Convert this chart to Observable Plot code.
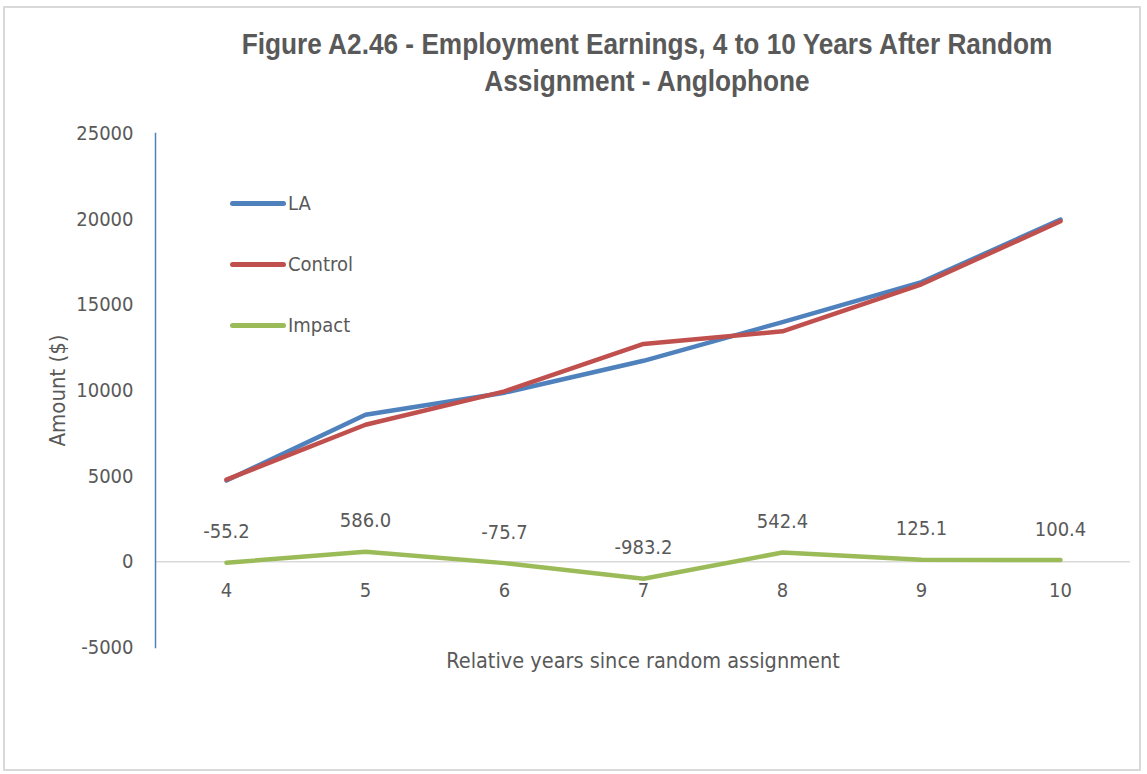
<!DOCTYPE html>
<html>
<head>
<meta charset="utf-8">
<script src="https://cdn.jsdelivr.net/npm/d3@7"></script>
<script src="https://cdn.jsdelivr.net/npm/@observablehq/plot@0.6"></script>
<style>
  html, body { margin: 0; padding: 0; background: #fff; }
  #wrap { position: relative; width: 1147px; height: 774px; overflow: hidden;
          font-family: "Liberation Sans Narrow", "Arial Narrow", "DejaVu Sans Condensed", sans-serif; color: #595959; }
  #border { position: absolute; left: 3px; top: 6px; width: 1138px; height: 765px; border: 2px solid #d9d9d9; box-sizing: border-box; }
  #title { position: absolute; left: 140px; width: 1014px; top: 25px; text-align: center;
           font-family: "Liberation Sans", Arial, sans-serif;
           font-weight: bold; font-size: 30px; line-height: 37px; color: #595959;
           transform: scaleX(0.874); transform-origin: 507px 0; white-space: nowrap; }
  #chart { position: absolute; left: 0; top: 0; }
  .leg { position: absolute; left: 230px; height: 24px; display: flex; align-items: center; font-size: 20px; }
  .leg span.bar { display: inline-block; width: 56px; height: 5px; border-radius: 3px; margin-right: 2px; }
</style>
</head>
<body>
<div id="wrap">
  <div id="border"></div>
  <div id="chart"></div>
  <div id="title">Figure A2.46 - Employment Earnings, 4 to 10 Years After Random<br>Assignment - Anglophone</div>
  <div id="legend"></div>
</div>
<script>
const years = [4, 5, 6, 7, 8, 9, 10];
const laValues = [4745, 8586, 9874, 11733, 13994, 16325, 19980];
const controlValues = [4800, 8000, 9950, 12716, 13452, 16200, 19880];
const impactValues = [-55.2, 586.0, -75.7, -983.2, 542.4, 125.1, 100.4];
const seriesNames = ["LA", "Control", "Impact"];
const seriesColors = ["#4F81BD", "#C0504D", "#9BBB59"];
const yTicks = [-5000, 0, 5000, 10000, 15000, 20000, 25000];

const rows = [];
[laValues, controlValues, impactValues].forEach((vals, i) => {
  vals.forEach((v, j) => rows.push({series: seriesNames[i], year: years[j], value: v}));
});
const impactRows = rows.filter(d => d.series === "Impact");

const fontFamily = '"Liberation Sans Narrow", "Arial Narrow", "DejaVu Sans Condensed", sans-serif';

const chart = Plot.plot({
  width: 1147,
  height: 774,
  marginLeft: 155,
  marginRight: 17,
  marginTop: 133,
  marginBottom: 127,
  style: {fontFamily, fontSize: "20px", color: "#595959", background: "transparent", overflow: "visible"},
  x: {type: "point", domain: years, padding: 0.5},
  y: {domain: [-5000, 25000]},
  color: {domain: seriesNames, range: seriesColors},
  marks: [
    Plot.ruleY([0], {stroke: "#D9D9D9", strokeWidth: 1.5}),
    Plot.frame({anchor: "left", stroke: "#4F81BD", strokeWidth: 1.5}),
    Plot.axisY({ticks: yTicks, tickSize: 0, tickPadding: 22, tickFormat: d => String(d),
                label: null, fill: "#595959"}),
    Plot.text(["Amount ($)"], {frameAnchor: "left", dx: -98, rotate: -90, textAnchor: "middle",
                               lineAnchor: "middle", fontSize: 22, fill: "#595959"}),
    Plot.axisX({ticks: [], label: null}),
    Plot.text(years, {x: d => d, y: () => 0, dy: 29, text: d => String(d), fill: "#595959"}),
    Plot.text(["Relative years since random assignment"], {frameAnchor: "bottom", dy: 20, fontSize: 21.5, fill: "#595959"}),
    Plot.line(rows, {x: "year", y: "value", z: "series", stroke: "series", strokeWidth: 4.5,
                     strokeLinecap: "round", strokeLinejoin: "round"}),
    Plot.text(impactRows, {x: "year", y: "value", dy: -31, text: d => d.value.toFixed(1), fill: "#595959"})
  ]
});
document.getElementById("chart").appendChild(chart);

const legend = document.getElementById("legend");
const legendTops = [203, 264, 325];
seriesNames.forEach((name, i) => {
  const div = document.createElement("div");
  div.className = "leg";
  div.style.top = (legendTops[i] - 12) + "px";
  div.innerHTML = `<span class="bar" style="background:${seriesColors[i]}"></span>${name}`;
  legend.appendChild(div);
});
</script>
</body>
</html>
